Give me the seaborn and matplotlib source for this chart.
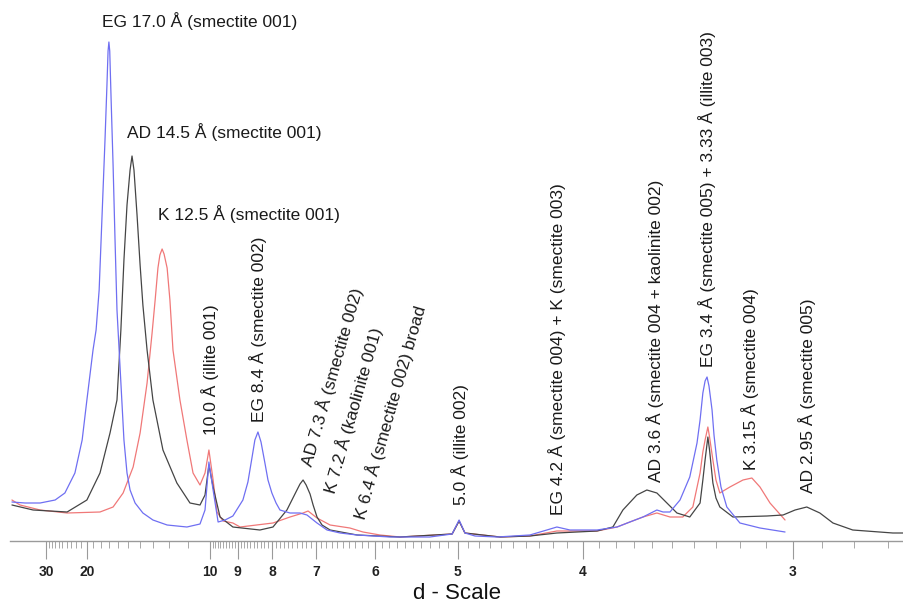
import matplotlib
matplotlib.use("Agg")
import matplotlib.pyplot as plt
import seaborn as sns
import numpy as np
import pandas as pd

# Cu K-alpha, the d-scale axis is linear in 2-theta
WAVELENGTH = 1.5406


def d_to_2theta(d):
    return 2 * np.degrees(np.arcsin(WAVELENGTH / (2 * np.asarray(d, dtype=float))))


# --- traces (2-theta in degrees, intensity in arbitrary units) ---
eg_2theta = [1.72, 2.19, 2.73, 3.27, 3.62, 3.98, 4.24, 4.41, 4.63, 4.74, 4.85, 4.92, 4.99, 5.06,
             5.13, 5.17, 5.20, 5.23, 5.28, 5.35, 5.42, 5.49, 5.60, 5.74, 5.85, 5.96, 6.14, 6.42,
             6.78, 7.29, 8.00, 8.47, 8.65, 8.79, 8.94, 9.12, 9.37, 9.65, 10.01, 10.19, 10.34,
             10.44, 10.55, 10.66, 10.80, 10.91, 11.05, 11.20, 11.34, 11.70, 12.06, 12.31, 12.67,
             13.03, 13.50, 14.11, 15.29, 16.72, 17.52, 17.77, 17.98, 18.34, 19.13, 20.31, 20.92,
             21.28, 21.75, 22.72, 23.44, 23.90, 24.37, 24.87, 25.09, 25.34, 25.70, 26.05, 26.31,
             26.42, 26.52, 26.60, 26.67, 26.74, 26.85, 26.92, 27.02, 27.17, 27.38, 27.85, 28.57,
             29.47]
eg_counts = [39, 38, 38, 41, 48, 68, 101, 141, 191, 211, 251, 301, 351, 401,
             456, 490, 499, 490, 441, 376, 301, 231, 174, 101, 68, 51, 38, 28,
             21, 16, 14, 17, 31, 79, 51, 19, 21, 25, 41, 59, 84,
             101, 109, 99, 78, 61, 48, 38, 31, 28, 28, 26, 18,
             11, 8, 6, 4, 4, 7, 21, 8, 5, 4, 6, 11,
             14, 11, 11, 14, 19, 24, 31, 29, 29, 41, 64, 98,
             121, 148, 160, 164, 155, 131, 106, 81, 54, 34, 18, 13,
             9]

ad_2theta = [1.72, 2.48, 3.70, 4.41, 4.88, 5.24, 5.49, 5.63, 5.74, 5.85, 5.96, 6.03, 6.10, 6.21,
             6.32, 6.42, 6.57, 6.78, 7.14, 7.64, 8.11, 8.47, 8.65, 8.79, 8.94, 9.19, 9.65, 10.62,
             11.09, 11.59, 11.77, 11.95, 12.06, 12.17, 12.28, 12.42, 12.53, 12.67, 12.85, 13.14,
             14.11, 15.65, 17.52, 17.77, 17.98, 19.24, 20.31, 21.28, 22.72, 23.29, 23.65, 24.15,
             24.51, 24.87, 25.23, 25.59, 26.05, 26.42, 26.52, 26.60, 26.70, 26.76, 26.88, 26.99,
             27.13, 27.60, 28.82, 29.40, 29.83, 30.25, 30.72, 31.19, 31.90, 33.34, 33.74]
ad_counts = [36, 31, 29, 41, 68, 108, 141, 211, 281, 336, 371, 385, 371, 326,
             276, 236, 191, 141, 91, 58, 38, 36, 46, 76, 54, 24, 14, 11,
             14, 31, 41, 51, 57, 61, 56, 47, 36, 24, 16, 11,
             6, 4, 7, 20, 8, 4, 5, 8, 10, 14, 31, 46,
             51, 48, 38, 28, 24, 38, 61, 81, 104, 91, 58, 43,
             34, 24, 25, 26, 31, 34, 28, 18, 11, 8, 8]

k_2theta = [1.72, 2.01, 2.73, 3.70, 4.88, 5.35, 5.71, 6.07, 6.32, 6.57, 6.75, 6.86, 6.96, 7.03,
            7.11, 7.18, 7.29, 7.39, 7.50, 7.75, 8.00, 8.22, 8.47, 8.65, 8.79, 8.94, 9.08, 9.30,
            9.65, 9.91, 11.09, 11.70, 12.17, 12.35, 12.67, 13.14, 13.85, 14.32, 14.93, 15.65,
            17.52, 17.77, 17.98, 19.24, 20.31, 21.28, 21.75, 22.72, 23.44, 23.90, 24.37, 24.87,
            25.34, 25.80, 26.16, 26.42, 26.52, 26.60, 26.70, 26.76, 26.88, 26.99, 27.13, 27.49,
            27.96, 28.28, 28.57, 28.93, 29.47]
k_counts = [41, 36, 31, 28, 29, 34, 48, 74, 108, 158, 208, 241, 273, 286,
            292, 287, 273, 241, 191, 141, 101, 68, 56, 68, 91, 61, 29, 20,
            18, 14, 18, 24, 28, 30, 23, 16, 13, 9, 6, 4,
            7, 20, 8, 4, 5, 10, 10, 10, 14, 19, 24, 28,
            24, 24, 34, 68, 89, 101, 114, 104, 81, 61, 48, 54,
            61, 63, 54, 38, 21]

# d-scale ticks (Å)
major_d = [30, 20, 10, 9, 8, 7, 6, 5, 4, 3]
minor_d = ([float(v) for v in range(21, 30)] + [float(v) for v in range(11, 20)]
           + [round(v, 1) for v in np.arange(2.7, 10.0, 0.1) if abs(v - round(v)) > 1e-6])

peak_labels = [
    "EG 17.0 Å (smectite 001)",
    "AD 14.5 Å (smectite 001)",
    "K 12.5 Å (smectite 001)",
    "10.0 Å (illite 001)",
    "EG 8.4 Å (smectite 002)",
    "AD 7.3 Å (smectite 002)",
    "K 7.2 Å (kaolinite 001)",
    "K 6.4 Å (smectite 002) broad",
    "5.0 Å (illite 002)",
    "EG 4.2 Å (smectite 004) + K (smectite 003)",
    "AD 3.6 Å (smectite 004 + kaolinite 002)",
    "EG 3.4 Å (smectite 005) + 3.33 Å (illite 003)",
    "K 3.15 Å (smectite 004)",
    "AD 2.95 Å (smectite 005)",
]

df = pd.concat([
    pd.DataFrame({"two_theta": eg_2theta, "counts": eg_counts, "treatment": "EG"}),
    pd.DataFrame({"two_theta": ad_2theta, "counts": ad_counts, "treatment": "AD"}),
    pd.DataFrame({"two_theta": k_2theta, "counts": k_counts, "treatment": "K"}),
])

sns.set_theme(style="white")
plt.rcParams['font.family'] = ['Liberation Sans', 'DejaVu Sans']

fig = plt.figure(figsize=(9.04, 6.07), dpi=100)
ax = fig.add_axes([10 / 904, 1 - 541 / 607, 894 / 904, 541 / 607])

palette = {"EG": "#6f6ff2", "AD": "#454545", "K": "#f07878"}
for trt in ["K", "AD", "EG"]:
    sub = df[df["treatment"] == trt]
    sns.lineplot(data=sub, x="two_theta", y="counts", ax=ax, color=palette[trt],
                 linewidth=0.9, sort=False, estimator=None)

# axis styling: only the bottom d-scale axis
for side in ["left", "right", "top"]:
    ax.spines[side].set_visible(False)
ax.spines["bottom"].set_color("#9a9a9a")
ax.spines["bottom"].set_linewidth(1.0)
ax.set_yticks([])
ax.set_ylabel("")

ax.set_xticks(d_to_2theta(major_d))
ax.set_xticklabels([str(d) for d in major_d])
ax.set_xticks(d_to_2theta(minor_d), minor=True)
ax.tick_params(axis="x", which="major", bottom=True, length=13, width=0.8, color="#9a9a9a",
               pad=4, labelsize=10, labelcolor="#222222")
ax.tick_params(axis="x", which="minor", bottom=True, length=5, width=0.6, color="#9a9a9a")
for lbl in ax.get_xticklabels():
    lbl.set_fontweight("bold")
ax.set_xlabel("d - Scale", fontsize=16, color="#111111", labelpad=3)

# limits last so the tick setters cannot widen them
ax.set_xlim(1.65, 33.74)
ax.set_ylim(0, 541)

# --- peak annotations (placement in data coordinates) ---
txt = dict(fontsize=12.5, color="#1a1a1a")
placements = [
    (8.47, 520, 0, "center", "center"),
    (9.35, 409, 0, "center", "center"),
    (10.21, 327, 0, "center", "center"),
    (8.83, 106, 90, "center", "bottom"),
    (10.55, 119, 90, "center", "bottom"),
    (13.20, 164, 74, "center", "center"),
    (13.97, 131, 74, "center", "center"),
    (15.28, 129, 74, "center", "center"),
    (17.80, 36, 90, "center", "bottom"),
    (21.28, 26, 90, "center", "bottom"),
    (24.80, 59, 90, "center", "bottom"),
    (26.67, 174, 90, "center", "bottom"),
    (28.21, 71, 90, "center", "bottom"),
    (30.25, 48, 90, "center", "bottom"),
]
for label, (x, y, rot, ha, va) in zip(peak_labels, placements):
    ax.text(x, y, label, rotation=rot, ha=ha, va=va, **txt)

fig.savefig("out.png", dpi=100)
